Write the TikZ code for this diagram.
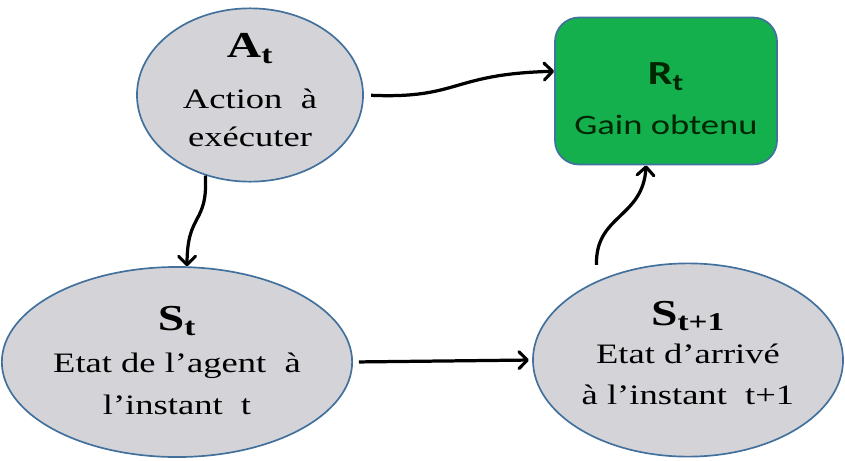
\documentclass[tikz,border=0pt]{standalone}
\usepackage{fontspec}
\setmainfont[FakeStretch=1.3]{Liberation Serif}
\newfontfamily\gainfont[FakeStretch=1.3]{Carlito}
\usetikzlibrary{arrows.meta, positioning, calc, shapes.geometric}
\definecolor{stategray}{HTML}{D4D4D8}
\definecolor{edgeblue}{HTML}{41719C}
\definecolor{gaingreen}{HTML}{14B04E}
\tikzset{
  statenode/.style={ellipse, draw=edgeblue, fill=stategray, line width=1.2pt,
                    inner sep=0pt, align=center,
                    font=\fontsize{20}{27}\selectfont},
  gainbox/.style={rectangle, rounded corners=0.6cm, draw=edgeblue, fill=gaingreen,
                  line width=1.2pt, minimum width=5.55cm, minimum height=3.675cm,
                  align=center, text=black!85!green,
                  font=\gainfont\fontsize{20}{27}\selectfont},
  arr/.style={-{Straight Barb[length=6pt, width=12pt, line width=2.2pt, round]},
              line width=2.3pt, black},
}
\newcommand{\bigsym}[2]{{\fontsize{26}{30}\selectfont\bfseries #1\textsubscript{#2}}}
% extra depth below the last line, lifts the text block
\newcommand{\lift}[1]{\rule[-#1]{0pt}{0pt}}

\begin{document}
\begin{tikzpicture}[x=0.025cm, y=-0.025cm]
  \useasboundingbox[fill=white] (0,0) rectangle (845,460);

  % Nodes
  \node[statenode, minimum width=5.65cm, minimum height=4.3cm] (act) at (250,95)
    {\bigsym{A}{t}\\[9pt] Action\ \ à\\ exécuter\lift{7pt}};
  \node[gainbox] (gain) at (666,91)
    {\rule{0pt}{27pt}{\fontsize{24}{28}\selectfont\bfseries R\textsubscript{t}}\\[8.5pt] Gain obtenu};
  \node[statenode, minimum width=8.1cm, minimum height=4.75cm] (stt) at (177,362)
    {\bigsym{S}{t}\\[3pt] Etat de l'agent\ \ à\\[3pt] l'instant\ \ t\lift{2pt}};
  \node[statenode, minimum width=7.75cm, minimum height=4.83cm] (stn) at (688,360)
    {\bigsym{S}{t+1}\\[0pt] Etat d'arrivé\\[2pt] à l'instant\ \ t+1\lift{10pt}};

  % Arrows
  \draw[arr, shorten <=0.18cm] (act.east) .. controls (460,99) and (450,74) .. (gain.170);
  \draw[arr] (act.241) .. controls (208,225) and (187,212) .. (stt.84);
  \draw[arr, shorten <=0.15cm, shorten >=0.08cm] (stt.east) -- (stn.west);
  \draw[arr, shorten <=0.4cm] (stn.139) .. controls (595,215) and (643,218) .. (gain.255);
\end{tikzpicture}
\end{document}
